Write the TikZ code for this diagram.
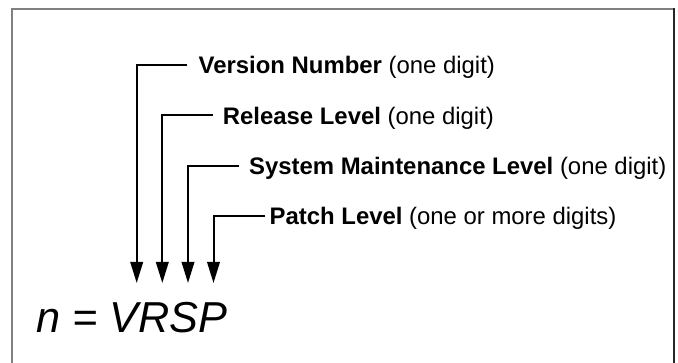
\documentclass[tikz,border=0pt]{standalone}
\usepackage{fontspec}
\setmainfont{Liberation Sans}
\usetikzlibrary{arrows.meta}
\begin{document}
\begin{tikzpicture}[x=1pt,y=1pt,
  lbl/.style={anchor=west, inner sep=0pt, text height=17.1pt, text depth=0pt,
    font=\fontsize{23.9}{28}\selectfont},
  conn/.style={line width=2pt, -{Triangle[length=21pt,width=12.5pt]}},
  frame/.style={line width=2pt, draw=gray}
]
\useasboundingbox (0,0) rectangle (678,362);
% frame
\draw[frame] (12,-2) -- (12,353) -- (674.3,353);
\draw[line width=2pt, draw=black!85] (674.3,354) -- (674.3,-2);
% labels
\node[lbl] (vn) at (198.5,297.2) {\textbf{Version Number} (one digit)};
\node[lbl] (rl) at (222.7,246.5) {\textbf{Release Level} (one digit)};
\node[lbl] (sm) at (249.0,196.0) {\textbf{System Maintenance Level} (one digit)};
\node[lbl] (pl) at (269.5,146.3) {\textbf{Patch Level} (one or more digits)};
% arrow tips
\coordinate (tv) at (136.7,79);
\coordinate (tr) at (162.3,79);
\coordinate (ts) at (188.0,79);
\coordinate (tp) at (213.5,79);
% connectors
\draw[conn] ([xshift=-11.2pt]vn.west) -| (tv);
\draw[conn] ([xshift=-9.7pt]rl.west) -| (tr);
\draw[conn] ([xshift=-9.7pt]sm.west) -| (ts);
\draw[conn] ([xshift=-4.5pt]pl.west) -| (tp);
% formula
\node[anchor=base west, inner sep=0pt, font=\fontsize{43.3}{50}\selectfont\itshape] (eq) at (36,29.5) {n = VRSP};
\end{tikzpicture}
\end{document}
